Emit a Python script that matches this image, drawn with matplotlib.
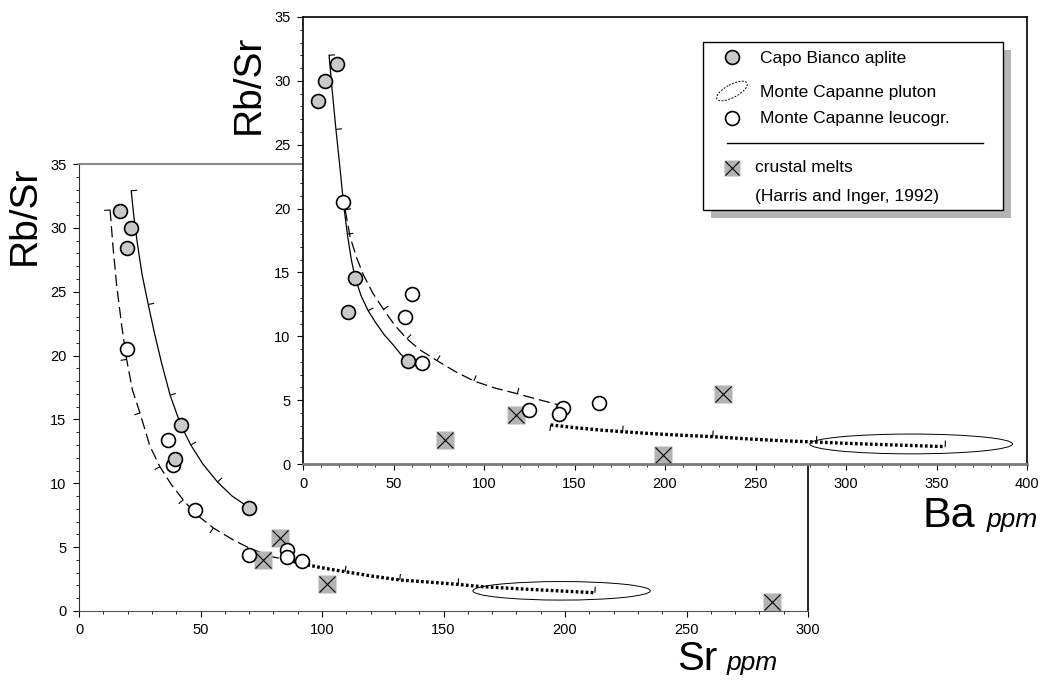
import numpy as np
import matplotlib
matplotlib.use('Agg')
import matplotlib.pyplot as plt
from matplotlib.ticker import MultipleLocator
from matplotlib.patches import Ellipse, Rectangle

plt.rcParams['font.family'] = ['Liberation Sans', 'DejaVu Sans']

# ---- lower panel: Sr (ppm) vs Rb/Sr ----
sr_capo = [16.9, 21.3, 19.9, 41.8, 39.5, 69.9]
rs_capo_sr = [31.3, 30.0, 28.4, 14.6, 11.9, 8.1]
sr_leuco = [19.9, 36.8, 38.8, 47.9, 69.9, 85.7, 85.7, 91.9]
rs_leuco_sr = [20.5, 13.4, 11.4, 7.9, 4.35, 4.8, 4.25, 3.9]
sr_melts = [82.7, 75.7, 102.0, 285.2]
rs_melts_sr = [5.75, 4.0, 2.1, 0.7]

sr_solid = [21.5, 22.5, 24.0, 26.0, 28.5, 31.0, 34.0, 37.5, 41.8, 46.0, 51.0, 57.0, 63.0, 70.0]
rs_solid_sr = [32.9, 31.0, 28.8, 26.3, 24.0, 21.8, 19.4, 16.9, 14.6, 13.0, 11.5, 10.1, 9.0, 8.1]
sr_solid_tk = [21.5, 28.5, 37.5, 46.0, 57.0]

sr_dash = [12.8, 14.0, 15.5, 17.6, 19.6, 22.0, 25.1, 29.2, 33.3, 38.0, 42.9, 48.0, 55.3, 63.5, 70.4, 79.3, 86.0]
rs_dash_sr = [31.4, 28.5, 25.5, 22.3, 19.7, 17.3, 15.5, 12.9, 11.3, 9.9, 8.7, 7.6, 6.5, 5.56, 4.9, 4.25, 4.0]
sr_dash_tk = [12.8, 19.6, 25.1, 33.3, 42.9, 55.3, 70.4]

sr_dot = [86.0, 91.0, 100.0, 109.5, 120.0, 132.0, 145.0, 156.0, 165.0, 180.0, 195.0, 212.3]
rs_dot_sr = [4.0, 3.73, 3.38, 3.08, 2.75, 2.43, 2.25, 2.08, 1.92, 1.75, 1.6, 1.43]
sr_dot_tk = [109.5, 132.0, 156.0, 212.3]

sr_pluton = (198.6, 1.58, 73.0, 1.45)   # centre x, centre y, width, height

# ---- upper panel: Ba (ppm) vs Rb/Sr ----
ba_capo = [18.7, 12.0, 8.5, 28.8, 24.9, 58.2]
rs_capo_ba = [31.3, 30.0, 28.4, 14.6, 11.9, 8.05]
ba_leuco = [22.3, 60.0, 56.3, 65.5, 125.0, 143.6, 141.6, 163.4]
rs_leuco_ba = [20.5, 13.3, 11.5, 7.9, 4.2, 4.4, 3.95, 4.75]
ba_melts = [78.6, 117.8, 199.1, 231.9]
rs_melts_ba = [1.9, 3.85, 0.68, 5.5]

ba_solid = [14.4, 16.3, 18.2, 20.2, 22.3, 24.5, 26.7, 28.8, 32.0, 36.0, 40.0, 45.0, 50.0, 54.0, 58.2]
rs_solid_ba = [32.0, 29.0, 26.2, 23.5, 20.5, 18.0, 16.0, 14.6, 13.2, 12.0, 11.1, 10.1, 9.3, 8.6, 8.05]
ba_solid_tk = [14.4, 18.2, 24.5, 36.0]

ba_dash = [23.3, 26.0, 29.5, 33.4, 38.5, 44.5, 50.5, 57.4, 65.0, 74.0, 84.0, 94.4, 106.0, 118.4, 130.0, 142.0]
rs_dash_ba = [19.9, 17.8, 16.2, 14.8, 13.4, 12.1, 10.9, 9.8, 8.9, 8.1, 7.25, 6.5, 5.95, 5.5, 5.05, 4.6]
ba_dash_tk = [23.3, 44.5, 57.4, 74.0, 94.4, 118.4]

ba_dot = [136.8, 150.0, 165.0, 176.6, 190.0, 205.0, 226.4, 247.6, 265.0, 283.7, 300.0, 320.0, 340.0, 354.8]
rs_dot_ba = [3.06, 2.85, 2.65, 2.53, 2.4, 2.28, 2.14, 1.95, 1.82, 1.72, 1.62, 1.52, 1.43, 1.36]
ba_dot_tk = [176.6, 226.4, 283.7, 354.8]

ba_pluton = (336.0, 1.57, 112.0, 1.55)

legend_labels = ['Capo Bianco aplite', 'Monte Capanne pluton', 'Monte Capanne leucogr.',
                 'crustal melts', '(Harris and Inger, 1992)']

GRAY_FILL = '#c9c9c9'
MELT_FILL = '#b3b3b3'

W, H = 1045, 681
fig = plt.figure(figsize=(W / 100, H / 100), dpi=100)


def px_axes(left, top, right, bottom):
    return fig.add_axes([left / W, 1 - bottom / H, (right - left) / W, (bottom - top) / H])


def style_axes(ax, xmax):
    ax.set_xlim(0, xmax)
    ax.set_ylim(0, 35)
    ax.xaxis.set_major_locator(MultipleLocator(50))
    ax.xaxis.set_minor_locator(MultipleLocator(10))
    ax.yaxis.set_major_locator(MultipleLocator(5))
    ax.yaxis.set_minor_locator(MultipleLocator(1))
    ax.tick_params(which='major', direction='out', length=4, width=0.8, labelsize=10.5, pad=5)
    ax.tick_params(which='minor', direction='out', length=2, width=0.6)


def curve_ticks(ax, cx, cy, tx, side=1, length=6, lw=0.8):
    pts = ax.transData.transform(np.column_stack([cx, cy]))
    inv = ax.transData.inverted()
    for x in tx:
        i = int(np.argmin(np.abs(np.array(cx) - x)))
        p = pts[i]
        j0, j1 = max(i - 1, 0), min(i + 1, len(pts) - 1)
        d = pts[j1] - pts[j0]
        d = d / np.hypot(*d)
        n = np.array([-d[1], d[0]]) * side
        seg = inv.transform([p, p + n * length])
        ax.plot(seg[:, 0], seg[:, 1], color='black', lw=lw, solid_capstyle='butt')


def draw_panel(ax, xc, yc, xl, yl, xm, ym, solid, dash, dot, pluton):
    ax.add_patch(Ellipse(pluton[:2], pluton[2], pluton[3], fill=False, lw=0.7, ec='black'))
    ax.plot(solid[0], solid[1], color='black', lw=0.9)
    ax.plot(dash[0], dash[1], color='black', lw=0.9, dashes=(9, 4))
    ax.plot(dot[0], dot[1], color='black', lw=2.4, dashes=(0.8, 0.7))
    curve_ticks(ax, solid[0], solid[1], solid[2], side=1)
    curve_ticks(ax, dash[0], dash[1], dash[2], side=dash[3])
    curve_ticks(ax, dot[0], dot[1], dot[2], side=1)
    ax.plot(xm, ym, 's', ms=13, mfc=MELT_FILL, mec='none', clip_on=False)
    ax.plot(xm, ym, 'x', ms=12, mec='black', mew=0.8, clip_on=False)
    ax.plot(xl, yl, 'o', ms=10, mfc='white', mec='black', mew=1.2)
    ax.plot(xc, yc, 'o', ms=10, mfc=GRAY_FILL, mec='black', mew=1.2)


# lower axes (Sr)
ax1 = px_axes(79, 164, 808, 611)
style_axes(ax1, 300)
ax1.spines['top'].set_color('#8a8a8a')
ax1.spines['top'].set_linewidth(1.5)
ax1.spines['bottom'].set_color('#555555')
ax1.spines['left'].set_color('#333333')
ax1.spines['right'].set_linewidth(1.2)
draw_panel(ax1, sr_capo, rs_capo_sr, sr_leuco, rs_leuco_sr, sr_melts, rs_melts_sr,
           (sr_solid, rs_solid_sr, sr_solid_tk), (sr_dash, rs_dash_sr, sr_dash_tk, -1),
           (sr_dot, rs_dot_sr, sr_dot_tk), sr_pluton)

# upper axes (Ba), drawn over the lower one
ax2 = px_axes(303, 17, 1027, 464)
ax2.set_facecolor('white')
style_axes(ax2, 400)
ax2.spines['bottom'].set_color('#7a7a7a')
ax2.spines['bottom'].set_linewidth(2)
for s in ['top', 'left', 'right']:
    ax2.spines[s].set_linewidth(1.2)
draw_panel(ax2, ba_capo, rs_capo_ba, ba_leuco, rs_leuco_ba, ba_melts, rs_melts_ba,
           (ba_solid, rs_solid_ba, ba_solid_tk), (ba_dash, rs_dash_ba, ba_dash_tk, 1),
           (ba_dot, rs_dot_ba, ba_dot_tk), ba_pluton)
curve_ticks(ax2, ba_dot, rs_dot_ba, [136.8], side=-1)

# overlay in pixel coordinates for labels and legend
ov = fig.add_axes([0, 0, 1, 1], zorder=10)
ov.set_xlim(0, W)
ov.set_ylim(H, 0)
ov.axis('off')

ov.text(25, 215, 'Rb/Sr', rotation=90, fontsize=28, ha='center', va='center')
ov.text(249, 84, 'Rb/Sr', rotation=90, fontsize=28, ha='center', va='center')
ov.text(923, 527, 'Ba', fontsize=31, ha='left', va='baseline')
ov.text(987, 527, 'ppm', fontsize=19, style='italic', ha='left', va='baseline')
ov.text(677, 670, 'Sr', fontsize=29, ha='left', va='baseline')
ov.text(727, 670, 'ppm', fontsize=19, style='italic', ha='left', va='baseline')

# legend box with shadow
ov.add_patch(Rectangle((711, 50), 300, 168, fc='#b5b5b5', ec='none'))
ov.add_patch(Rectangle((703, 42), 300, 168, fc='white', ec='black', lw=1))
ov.plot([732], [57], 'o', ms=10, mfc=GRAY_FILL, mec='black', mew=1.2)
ov.add_patch(Ellipse((732, 91), 34, 13, angle=-28, fill=False, ec='black', lw=0.7, ls=(0, (2, 1.5))))
ov.plot([732], [118], 'o', ms=10, mfc='white', mec='black', mew=1.2)
ov.plot([727, 983], [143, 143], color='black', lw=1)
ov.plot([732], [168], 's', ms=11, mfc=MELT_FILL, mec='none')
ov.plot([732], [168], 'x', ms=10, mec='black', mew=0.8)
ov.text(760, 58, legend_labels[0], fontsize=12.5, va='center')
ov.text(760, 92, legend_labels[1], fontsize=12.5, va='center')
ov.text(760, 118, legend_labels[2], fontsize=12.5, va='center')
ov.text(755, 168, legend_labels[3], fontsize=12.5, va='center')
ov.text(755, 197, legend_labels[4], fontsize=12.5, va='center')

fig.savefig('out.png', dpi=100)
